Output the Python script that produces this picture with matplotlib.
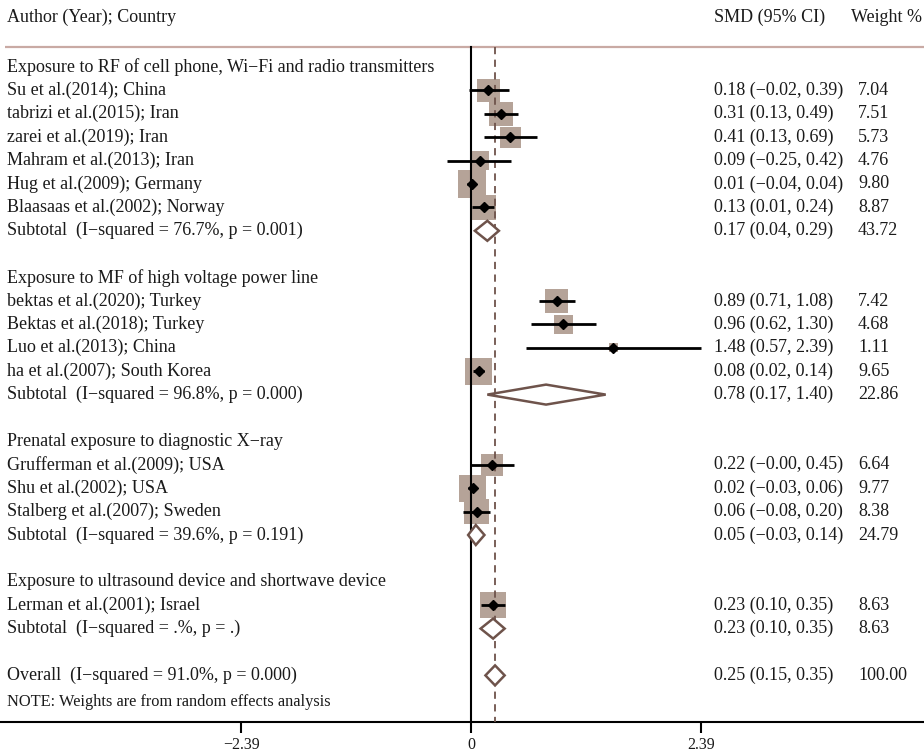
import matplotlib
matplotlib.use("Agg")
import matplotlib.pyplot as plt
from matplotlib.patches import Rectangle, Polygon
import numpy as np

plt.rcParams['font.family'] = ['Liberation Serif', 'DejaVu Serif']

group_titles = [
    "Exposure to RF of cell phone, Wi\u2212Fi and radio transmitters",
    "Exposure to MF of high voltage power line",
    "Prenatal exposure to diagnostic X\u2212ray",
    "Exposure to ultrasound device and shortwave device",
]
study_names = [
    ["Su et al.(2014); China", "tabrizi et al.(2015); Iran", "zarei et al.(2019); Iran",
     "Mahram et al.(2013); Iran", "Hug et al.(2009); Germany", "Blaasaas et al.(2002); Norway"],
    ["bektas et al.(2020); Turkey", "Bektas et al.(2018); Turkey", "Luo et al.(2013); China",
     "ha et al.(2007); South Korea"],
    ["Grufferman et al.(2009); USA", "Shu et al.(2002); USA", "Stalberg et al.(2007); Sweden"],
    ["Lerman et al.(2001); Israel"],
]
study_smd = [[0.18, 0.31, 0.41, 0.09, 0.01, 0.13], [0.89, 0.96, 1.48, 0.08], [0.22, 0.02, 0.06], [0.23]]
study_lo = [[-0.02, 0.13, 0.13, -0.25, -0.04, 0.01], [0.71, 0.62, 0.57, 0.02], [-0.00, -0.03, -0.08], [0.10]]
study_hi = [[0.39, 0.49, 0.69, 0.42, 0.04, 0.24], [1.08, 1.30, 2.39, 0.14], [0.45, 0.06, 0.20], [0.35]]
study_w = [[7.04, 7.51, 5.73, 4.76, 9.80, 8.87], [7.42, 4.68, 1.11, 9.65], [6.64, 9.77, 8.38], [8.63]]

sub_i2 = ["76.7%", "96.8%", "39.6%", ".%"]
sub_p = ["0.001", "0.000", "0.191", "."]
sub_smd = [0.17, 0.78, 0.05, 0.23]
sub_lo = [0.04, 0.17, -0.03, 0.10]
sub_hi = [0.29, 1.40, 0.14, 0.35]
sub_w = [43.72, 22.86, 24.79, 8.63]

overall_i2 = "91.0%"
overall_p = "0.000"
overall_smd, overall_lo, overall_hi, overall_w = 0.25, 0.15, 0.35, 100.00

tick_vals = [-2.39, 0, 2.39]
tick_labels = ["\u22122.39", "0", "2.39"]

W, H = 924, 755
fig = plt.figure(figsize=(W / 100, H / 100), dpi=100)
axis_px = 722
row0_px = 67
row_h = 23.4
x0_px = 471
x_scale = 96.2

ax = fig.add_axes([0, 1 - axis_px / H, 1, axis_px / H])
ymax_row = (axis_px - row0_px) / row_h
ymin_row = -row0_px / row_h
ax.set_ylim(ymax_row, ymin_row)
ax.set_xlim(-x0_px / x_scale, (W - x0_px) / x_scale)

def px2x(px):
    return (px - x0_px) / x_scale

def px2row(py):
    return (py - row0_px) / row_h

fs = 13
tcol = "#1a1a1a"
x_lab = px2x(7)
x_smd = px2x(714)
x_w = px2x(858)

def fmt(v):
    s = f"{v:.2f}"
    if s.startswith("-"):
        s = "\u2212" + s[1:]
    return s

def ci_text(m, lo, hi):
    return f"{fmt(m)} ({fmt(lo)}, {fmt(hi)})"

box_col = "#b5a398"
dia_col = "#6e534b"

# header
ax.text(x_lab, px2row(17), "Author (Year); Country", fontsize=fs, va="center", ha="left", color=tcol)
ax.text(x_smd, px2row(17), "SMD (95% CI)", fontsize=fs, va="center", ha="left", color=tcol)
ax.text(px2x(922), px2row(17), "Weight %", fontsize=fs, va="center", ha="right", color=tcol)
top_row = px2row(47)
ax.plot([px2x(5), px2x(924)], [top_row, top_row], color="#c9aaa4", lw=1.6, solid_capstyle="butt", clip_on=False)

def diamond(m, lo, hi, r):
    hh = 10 / row_h
    poly = Polygon([[lo, r], [m, r - hh], [hi, r], [m, r + hh]], closed=True,
                   facecolor="white", edgecolor=dia_col, lw=1.8, zorder=5)
    ax.add_patch(poly)

row = 0
for g in range(len(group_titles)):
    ax.text(x_lab, row, group_titles[g], fontsize=fs, va="center", ha="left", color=tcol)
    row += 1
    for i, name in enumerate(study_names[g]):
        m, lo, hi, w = study_smd[g][i], study_lo[g][i], study_hi[g][i], study_w[g][i]
        side = 8.65 * np.sqrt(w)
        ax.add_patch(Rectangle((m - side / 2 / x_scale, row - side / 2 / row_h),
                               side / x_scale, side / row_h, facecolor=box_col,
                               edgecolor="none", zorder=2))
        ax.plot([lo, hi], [row, row], color="black", lw=2, zorder=4, solid_capstyle="butt")
        ax.plot([m], [row], marker="D", color="black", ms=5.5, zorder=6)
        ax.text(x_lab, row, name, fontsize=fs, va="center", ha="left", color=tcol)
        ax.text(x_smd, row, ci_text(m, lo, hi), fontsize=fs, va="center", ha="left", color=tcol)
        ax.text(x_w, row, f"{w:.2f}", fontsize=fs, va="center", ha="left", color=tcol)
        row += 1
    ax.text(x_lab, row, f"Subtotal  (I\u2212squared = {sub_i2[g]}, p = {sub_p[g]})",
            fontsize=fs, va="center", ha="left", color=tcol)
    diamond(sub_smd[g], sub_lo[g], sub_hi[g], row)
    ax.text(x_smd, row, ci_text(sub_smd[g], sub_lo[g], sub_hi[g]), fontsize=fs, va="center", ha="left", color=tcol)
    ax.text(x_w, row, f"{sub_w[g]:.2f}", fontsize=fs, va="center", ha="left", color=tcol)
    row += 2

ax.text(x_lab, row, f"Overall  (I\u2212squared = {overall_i2}, p = {overall_p})",
        fontsize=fs, va="center", ha="left", color=tcol)
diamond(overall_smd, overall_lo, overall_hi, row)
ax.text(x_smd, row, ci_text(overall_smd, overall_lo, overall_hi), fontsize=fs, va="center", ha="left", color=tcol)
ax.text(x_w, row, f"{overall_w:.2f}", fontsize=fs, va="center", ha="left", color=tcol)
row += 1
ax.text(x_lab, px2row(702), "NOTE: Weights are from random effects analysis", fontsize=11.8,
        va="center", ha="left", color=tcol)

# reference lines
ax.plot([0, 0], [top_row, ymax_row], color="black", lw=1.5, zorder=3)
ax.plot([overall_smd, overall_smd], [top_row, ymax_row], color="#6e534b", lw=1.3,
        ls=(0, (4, 3)), zorder=3)

for s in ["top", "left", "right"]:
    ax.spines[s].set_visible(False)
ax.spines["bottom"].set_linewidth(1.5)
ax.set_yticks([])
ax.set_xticks(tick_vals)
ax.set_xticklabels(tick_labels, fontsize=11.5, color=tcol)
ax.tick_params(axis="x", length=8, width=1.5, pad=3)

fig.savefig("out.png", dpi=100)
